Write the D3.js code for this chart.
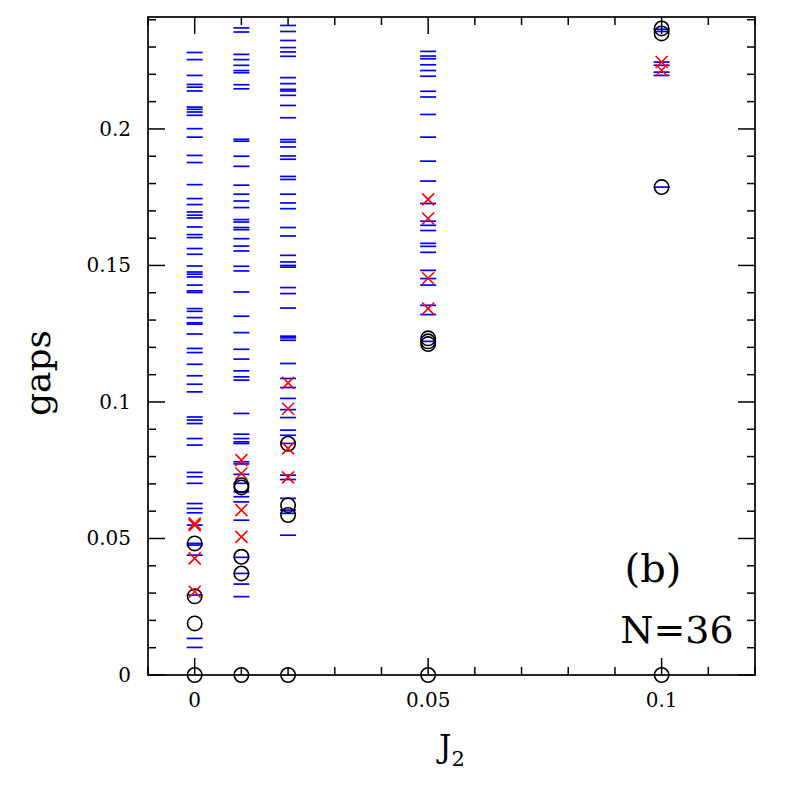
<!DOCTYPE html>
<html>
  <head>
    <meta charset="utf-8">
    <title>gaps vs J2, N=36</title>
    <script src="https://d3js.org/d3.v7.min.js"></script>
    <style>
      body { margin: 0; background: #fff; }
      svg text { font-family: "DejaVu Serif", "Liberation Serif", serif; fill: #000; }
    </style>
  </head>
  <body>
    <svg id="chart" width="797" height="797"></svg>
    <script>
      // data
      var j2 = [0, 0.01, 0.02, 0.05, 0.1];
      // blue dashes: full spectrum of gaps
      var levels0 = [0.228, 0.2254, 0.2196, 0.2163, 0.2153, 0.2139, 0.208, 0.2072, 0.2062, 0.205,
        0.2001, 0.197, 0.1903, 0.1877, 0.1796, 0.1745, 0.1723, 0.1696, 0.1684, 0.1674, 0.1641,
        0.1613, 0.1602, 0.1562, 0.1541, 0.1498, 0.1476, 0.1468, 0.1458, 0.1428, 0.1407, 0.1401,
        0.1342, 0.1332, 0.1309, 0.129, 0.1285, 0.1249, 0.1196, 0.1181, 0.1138, 0.1096, 0.1065,
        0.1037, 0.0945, 0.0934, 0.0921, 0.0866, 0.0842, 0.0742, 0.0726, 0.0702, 0.0628, 0.061,
        0.0594, 0.0549, 0.0482, 0.0476, 0.0439, 0.0293, 0.0134, 0.0101];
      var levels1 = [0.237, 0.2355, 0.2273, 0.2254, 0.2233, 0.2214, 0.2206, 0.2162, 0.2147, 0.1962,
        0.1955, 0.19, 0.1863, 0.1794, 0.1761, 0.1736, 0.1712, 0.1668, 0.1659, 0.1639, 0.1631,
        0.1598, 0.1571, 0.1553, 0.1497, 0.148, 0.1403, 0.1314, 0.1254, 0.1193, 0.1157, 0.1114,
        0.1092, 0.108, 0.0958, 0.0882, 0.0866, 0.0854, 0.0848, 0.0781, 0.0773, 0.0735, 0.0702,
        0.0671, 0.0653, 0.0634, 0.0567, 0.0431, 0.0372, 0.0333, 0.0287];
      var levels2 = [0.2379, 0.2357, 0.2324, 0.2298, 0.2282, 0.2266, 0.2188, 0.2166, 0.2145, 0.2139,
        0.2123, 0.2086, 0.2041, 0.1961, 0.1952, 0.1934, 0.1901, 0.1889, 0.1826, 0.1815, 0.1761,
        0.1729, 0.1708, 0.1639, 0.1608, 0.1537, 0.1513, 0.15, 0.1494, 0.1419, 0.1397, 0.1344,
        0.1241, 0.1235, 0.1226, 0.1141, 0.1086, 0.1053, 0.1013, 0.0972, 0.0943, 0.0897, 0.0878,
        0.0848, 0.0732, 0.0716, 0.0647, 0.0604, 0.0592, 0.0512];
      var levels5 = [0.2284, 0.2267, 0.2257, 0.2235, 0.2214, 0.2193, 0.2138, 0.2117, 0.2053, 0.197,
        0.1882, 0.1809, 0.1727, 0.1662, 0.1647, 0.1628, 0.1581, 0.157, 0.1548, 0.1482, 0.1452,
        0.1428, 0.1354, 0.132, 0.1222];
      var levels10 = [0.2365, 0.2357, 0.2245, 0.2233, 0.2208, 0.2196, 0.1787];
      var levels = [levels0, levels1, levels2, levels5, levels10];
      // black circles
      var circles0 = [0.0482, 0.0288, 0.0189, 0];
      var circles1 = [0.0695, 0.0687, 0.0433, 0.0372, 0];
      var circles2 = [0.0847, 0.0622, 0.0586, 0];
      var circles5 = [0.1233, 0.1222, 0.1212, 0];
      var circles10 = [0.2368, 0.235, 0.1787, 0];
      var circles = [circles0, circles1, circles2, circles5, circles10];
      // red crosses
      var crosses0 = [0.0555, 0.0549, 0.0427, 0.0305];
      var crosses1 = [0.0787, 0.0738, 0.0604, 0.0506];
      var crosses2 = [0.107, 0.0975, 0.083, 0.0724];
      var crosses5 = [0.1742, 0.1672, 0.1453, 0.1342];
      var crosses10 = [0.2245, 0.2215];
      var crosses = [crosses0, crosses1, crosses2, crosses5, crosses10];
      var yTicks = [0, 0.05, 0.1, 0.15, 0.2];
      var xTicks = [0, 0.05, 0.1];

      // flatten per column
      function flat(groups) {
        var out = [];
        groups.forEach(function(g, i) {
          g.forEach(function(v) { out.push({ j: j2[i], v: v }); });
        });
        return out;
      }

      var margin = { top: 17, right: 42, bottom: 122, left: 148 };
      var width = 797, height = 797;
      var x = d3.scaleLinear().domain([-0.01, 0.12]).range([margin.left, width - margin.right]);
      var y = d3.scaleLinear().domain([0, 0.241]).range([height - margin.bottom, margin.top]);

      var svg = d3.select("#chart");
      var x0 = margin.left, x1 = width - margin.right;
      var y0 = height - margin.bottom, y1 = margin.top;

      // ticks on all four sides
      var minorY = d3.range(0, 0.2405, 0.01);
      var minorX = d3.range(-0.01, 0.1205, 0.01);
      var tg = svg.append("g").attr("stroke", "#000").attr("stroke-width", 1.5);
      minorY.forEach(function(v) {
        var major = yTicks.some(function(t) { return Math.abs(t - v) < 1e-6; });
        var len = major ? 17 : 8;
        tg.append("line").attr("x1", x0).attr("x2", x0 + len).attr("y1", y(v)).attr("y2", y(v));
        tg.append("line").attr("x1", x1).attr("x2", x1 - len).attr("y1", y(v)).attr("y2", y(v));
      });
      minorX.forEach(function(v) {
        var major = xTicks.some(function(t) { return Math.abs(t - v) < 1e-6; });
        var len = major ? 17 : 8;
        tg.append("line").attr("y1", y0).attr("y2", y0 - len).attr("x1", x(v)).attr("x2", x(v));
        tg.append("line").attr("y1", y1).attr("y2", y1 + len).attr("x1", x(v)).attr("x2", x(v));
      });

      // tick labels
      svg.append("g").selectAll("text").data(yTicks).join("text")
        .attr("x", 131).attr("y", function(d) { return y(d); })
        .attr("dy", "0.35em").attr("text-anchor", "end")
        .style("font-size", "20px")
        .text(function(d) { return d === 0 ? "0" : d3.format("~g")(d); });
      svg.append("g").selectAll("text").data(xTicks).join("text")
        .attr("x", function(d) { return x(d); }).attr("y", 707)
        .attr("text-anchor", "middle")
        .style("font-size", "20px")
        .text(function(d) { return d === 0 ? "0" : d3.format("~g")(d); });

      // axis titles
      svg.append("text")
        .attr("transform", "translate(50,373) rotate(-90)")
        .attr("text-anchor", "middle")
        .style("font-size", "36px")
        .text("gaps");
      var xl = svg.append("text").attr("x", 439).attr("y", 757).style("font-size", "31px");
      xl.append("tspan").text("J");
      xl.append("tspan").attr("dy", 9).style("font-size", "21px").text("2");

      // annotations
      svg.append("text").attr("x", 653).attr("y", 582).attr("text-anchor", "middle")
        .style("font-size", "40px").text("(b)");
      svg.append("text").attr("x", 677).attr("y", 643).attr("text-anchor", "middle")
        .style("font-size", "38px").text("N=36");

      // blue dashes
      svg.append("g").selectAll("line").data(flat(levels)).join("line")
        .attr("x1", function(d) { return x(d.j) - 8; })
        .attr("x2", function(d) { return x(d.j) + 8; })
        .attr("y1", function(d) { return y(d.v); })
        .attr("y2", function(d) { return y(d.v); })
        .attr("stroke", "#0000ff").attr("stroke-width", 1.7);

      // black circles
      svg.append("g").selectAll("circle").data(flat(circles)).join("circle")
        .attr("cx", function(d) { return x(d.j); })
        .attr("cy", function(d) { return y(d.v); })
        .attr("r", 7.2)
        .attr("fill", "none").attr("stroke", "#000").attr("stroke-width", 1.6);

      // red crosses
      svg.append("g").selectAll("path").data(flat(crosses)).join("path")
        .attr("d", function(d) {
          var cx = x(d.j), cy = y(d.v), s = 6;
          return "M" + (cx - s) + "," + (cy - s) + "L" + (cx + s) + "," + (cy + s) +
            "M" + (cx - s) + "," + (cy + s) + "L" + (cx + s) + "," + (cy - s);
        })
        .attr("stroke", "#ff0000").attr("stroke-width", 1.6).attr("fill", "none");

      // frame
      svg.append("rect").attr("x", x0).attr("y", y1)
        .attr("width", x1 - x0).attr("height", y0 - y1)
        .attr("fill", "none").attr("stroke", "#000").attr("stroke-width", 1.7);
    </script>
  </body>
</html>
